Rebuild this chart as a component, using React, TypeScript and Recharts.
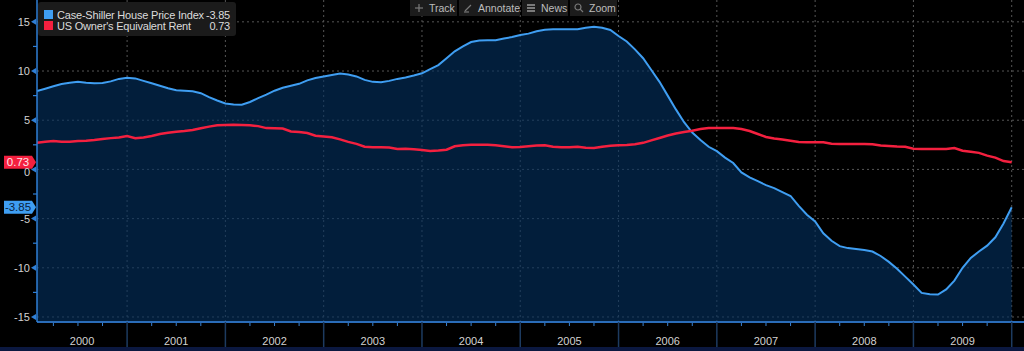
import React from 'react';
import { ComposedChart, Area, Line, XAxis, YAxis, CartesianGrid, ReferenceDot } from 'recharts';

const years = ['2000', '2001', '2002', '2003', '2004', '2005', '2006', '2007', '2008', '2009'];

// Monthly values, Jan 2000 .. Dec 2009 (YoY %)
const caseShiller = [
  7.97, 8.2, 8.45, 8.68, 8.8, 8.9, 8.8, 8.75, 8.78, 8.95, 9.2, 9.32,
  9.25, 9.0, 8.75, 8.5, 8.25, 8.05, 8.0, 7.95, 7.75, 7.35, 7.0, 6.7,
  6.6, 6.58, 6.85, 7.25, 7.6, 8.0, 8.3, 8.5, 8.7, 9.05, 9.3, 9.45,
  9.6, 9.75, 9.65, 9.45, 9.1, 8.9, 8.85, 9.0, 9.2, 9.35, 9.55, 9.77,
  10.2, 10.6, 11.3, 12.0, 12.5, 12.95, 13.1, 13.12, 13.12, 13.3, 13.45, 13.66,
  13.8, 14.05, 14.2, 14.24, 14.24, 14.24, 14.25, 14.4, 14.5, 14.4, 14.17, 13.56,
  13.0, 12.2, 11.3, 10.1, 8.9, 7.5, 6.1, 4.8, 3.75, 2.99, 2.3, 1.85,
  1.2, 0.65, -0.3, -0.8, -1.2, -1.6, -1.9, -2.3, -2.7, -3.7, -4.6, -5.3,
  -6.5, -7.25, -7.8, -8.0, -8.1, -8.2, -8.35, -8.8, -9.4, -10.1, -10.9, -11.7,
  -12.55, -12.7, -12.72, -12.2, -11.3, -10.0, -9.0, -8.35, -7.75, -6.9, -5.5, -3.85,
];

const ownersEquivRent = [
  2.71, 2.8, 2.88, 2.8, 2.82, 2.88, 2.92, 3.0, 3.1, 3.18, 3.25, 3.4,
  3.18, 3.25, 3.4, 3.6, 3.72, 3.83, 3.9, 4.0, 4.18, 4.35, 4.48, 4.52,
  4.55, 4.52, 4.48, 4.4, 4.2, 4.18, 4.15, 3.85, 3.8, 3.7, 3.42, 3.35,
  3.26, 3.05, 2.8, 2.6, 2.3, 2.25, 2.25, 2.22, 2.07, 2.1, 2.05, 1.97,
  1.87, 1.92, 2.0, 2.35, 2.45, 2.51, 2.51, 2.51, 2.45, 2.35, 2.25, 2.28,
  2.35, 2.42, 2.45, 2.3, 2.25, 2.25, 2.31, 2.2, 2.17, 2.3, 2.41, 2.45,
  2.48, 2.55, 2.7, 2.95, 3.2, 3.45, 3.65, 3.8, 3.92, 4.1, 4.21, 4.22,
  4.21, 4.21, 4.1, 3.9, 3.6, 3.3, 3.15, 3.05, 2.92, 2.78, 2.75, 2.75,
  2.75, 2.6, 2.58, 2.58, 2.58, 2.58, 2.55, 2.42, 2.38, 2.33, 2.3, 2.1,
  2.08, 2.07, 2.07, 2.07, 2.17, 1.9, 1.8, 1.68, 1.4, 1.2, 0.85, 0.73,
];

const yTicks = [-15, -12.5, -10, -7.5, -5, -2.5, 0, 2.5, 5, 7.5, 10, 12.5, 15];
const yGrid = [-15, -10, -5, 0, 5, 10, 15];

const CS_NAME = 'Case-Shiller House Price Index';
const OER_NAME = "US Owner's Equivalent Rent";

const CS_COLOR = '#3f9ef2';
const OER_COLOR = '#f4203f';
const FONT = '"Liberation Sans", Arial, sans-serif';

const data = caseShiller.map((v, i) => ({ m: i + 1, cs: v, oer: ownersEquivRent[i] }));
const lastCS = caseShiller[caseShiller.length - 1];
const lastOER = ownersEquivRent[ownersEquivRent.length - 1];

const quarterTicks = Array.from({ length: 40 }, (_, i) => (i + 1) * 3);
const yearLabelPos = years.map((_, k) => (Math.max(1, 12 * k) + 12 * k + 12) / 2);
const xTicks = Array.from(new Set([...quarterTicks, ...yearLabelPos])).sort((a, b) => a - b);
const yearBoundaries = years.map((_, k) => 12 * k + 12);

function YTick(props: any) {
  const { x, y, payload } = props;
  const v = payload.value;
  const major = Math.abs(v % 5) < 1e-9;
  if (!major) {
    return <line x1={x - 4} x2={x} y1={y} y2={y} stroke="#2f7fd6" strokeWidth={1.2} />;
  }
  // the zero label sits just under the last-value tag, as in the original
  const dy = v === 0 ? '0.62em' : '0.36em';
  return (
    <g>
      <text x={x - 7} y={y} dy={dy} textAnchor="end" fill="#d2d2d2" fontSize={11} fontFamily={FONT}>
        {v}
      </text>
      <polygon points={`${x - 6},${y} ${x - 1},${y - 3} ${x - 1},${y + 3}`} fill="#2f7fd6" />
    </g>
  );
}

function XTick(props: any) {
  const { x, y, payload } = props;
  const v = payload.value;
  const parts: any[] = [];
  if (Number.isInteger(v) && v % 3 === 0) {
    if (v % 12 === 0) {
      parts.push(<line key="b" x1={x} x2={x} y1={y} y2={y + 25} stroke="#1d3b60" strokeWidth={1.5} />);
    } else {
      parts.push(<line key="q" x1={x} x2={x} y1={y + 1} y2={y + 4} stroke="#3a82d0" strokeWidth={1} />);
    }
  }
  const k = yearLabelPos.indexOf(v);
  if (k >= 0) {
    parts.push(
      <text key="t" x={x} y={y + 23} textAnchor="middle" fill="#d2d2d2" fontSize={11} fontFamily={FONT}>
        {years[k]}
      </text>
    );
  }
  return <g>{parts}</g>;
}

const makeTag = (bg: string, fg: string, label: string) => (p: any) => {
  const { cx, cy } = p;
  const h = 6.5;
  const left = cx - 33;
  const body = cx - 5;
  return (
    <g>
      <polygon
        points={`${left},${cy - h} ${body},${cy - h} ${cx - 1},${cy} ${body},${cy + h} ${left},${cy + h}`}
        fill={bg}
      />
      <text x={(left + body) / 2} y={cy} dy="0.36em" textAnchor="middle" fill={fg} fontSize={11.5} fontFamily={FONT}>
        {label}
      </text>
    </g>
  );
};

function ToolButton({ left, width, icon, label }: any) {
  return (
    <div
      style={{
        position: 'absolute',
        left,
        top: 0,
        width,
        height: 16,
        background: '#1c1c1c',
        display: 'flex',
        alignItems: 'center',
        gap: 5,
        paddingLeft: 4,
        boxSizing: 'border-box',
        color: '#bdbdbd',
        fontSize: 10.5,
        fontFamily: FONT,
      }}
    >
      <svg width={10} height={10} viewBox="0 0 10 10">{icon}</svg>
      <span>{label}</span>
    </div>
  );
}

export default function App() {
  return (
    <div
      style={{
        position: 'absolute',
        left: 0,
        top: 0,
        width: 1024,
        height: 351,
        background: '#000',
        overflow: 'hidden',
      }}
    >
      <ComposedChart width={1024} height={351} data={data} margin={{ top: 0, right: 0, bottom: 0, left: 0 }}>
        <CartesianGrid
          stroke="#565656"
          strokeDasharray="2 3"
          horizontalValues={yGrid}
          verticalValues={yearBoundaries}
        />
        <XAxis
          type="number"
          dataKey="m"
          domain={[1, 121.5]}
          allowDataOverflow
          ticks={xTicks}
          interval={0}
          height={29}
          tickSize={0}
          tickMargin={0}
          tickLine={false}
          axisLine={{ stroke: '#2a6cb8', strokeWidth: 2 }}
          tick={<XTick />}
        />
        <YAxis
          type="number"
          domain={[-15.51, 17.22]}
          allowDataOverflow
          ticks={yTicks}
          interval={0}
          width={37}
          tickSize={0}
          tickMargin={0}
          tickLine={false}
          axisLine={{ stroke: '#2f7fd6', strokeWidth: 1.5 }}
          tick={<YTick />}
        />
        <Area
          type="linear"
          dataKey="cs"
          name={CS_NAME}
          baseValue="dataMin"
          stroke={CS_COLOR}
          strokeWidth={2}
          fill="#03305f"
          fillOpacity={0.62}
          isAnimationActive={false}
          dot={false}
          activeDot={false}
        />
        <Line
          type="linear"
          dataKey="oer"
          name={OER_NAME}
          stroke={OER_COLOR}
          strokeWidth={2.5}
          dot={false}
          activeDot={false}
          isAnimationActive={false}
        />
        <ReferenceDot x={1} y={lastOER} ifOverflow="visible" shape={makeTag('#f4203f', '#ffe6ea', lastOER.toFixed(2))} />
        <ReferenceDot x={1} y={lastCS} ifOverflow="visible" shape={makeTag('#3f9ef2', '#0a1e3c', lastCS.toFixed(2))} />
      </ComposedChart>

      {/* Legend */}
      <div
        style={{
          position: 'absolute',
          left: 38,
          top: 2,
          width: 198,
          height: 34,
          background: '#1b1b1b',
          borderRadius: 3,
          fontFamily: FONT,
          fontSize: 11,
          letterSpacing: -0.2,
          color: '#dcdcdc',
        }}
      >
        {[
          { name: CS_NAME, color: CS_COLOR, val: lastCS.toFixed(2) },
          { name: OER_NAME, color: OER_COLOR, val: lastOER.toFixed(2) },
        ].map((it, i) => (
          <div
            key={i}
            style={{
              position: 'absolute',
              left: 6,
              right: 6,
              top: 7 + i * 11,
              height: 11,
              display: 'flex',
              alignItems: 'center',
            }}
          >
            <span style={{ width: 9, height: 9, background: it.color, display: 'inline-block', marginRight: 4 }} />
            <span style={{ flex: 1, whiteSpace: 'nowrap' }}>{it.name}</span>
            <span>{it.val}</span>
          </div>
        ))}
      </div>

      {/* Toolbar */}
      <ToolButton
        left={410}
        width={47}
        label="Track"
        icon={
          <g stroke="#7a7a7a" strokeWidth={1.2}>
            <line x1={5} y1={1} x2={5} y2={9} />
            <line x1={1} y1={5} x2={9} y2={5} />
          </g>
        }
      />
      <ToolButton
        left={459}
        width={61}
        label="Annotate"
        icon={
          <g stroke="#7a7a7a" strokeWidth={1.2} fill="none">
            <line x1={2} y1={8} x2={8} y2={2} />
            <line x1={1} y1={9} x2={6} y2={9} />
          </g>
        }
      />
      <ToolButton
        left={522}
        width={46}
        label="News"
        icon={
          <g fill="#7a7a7a">
            <rect x={1} y={1} width={8} height={2} />
            <rect x={1} y={4} width={8} height={2} />
            <rect x={1} y={7} width={8} height={2} />
          </g>
        }
      />
      <ToolButton
        left={570}
        width={47}
        label="Zoom"
        icon={
          <g stroke="#7a7a7a" strokeWidth={1.2} fill="none">
            <circle cx={4} cy={4} r={3} />
            <line x1={6.2} y1={6.2} x2={9} y2={9} />
          </g>
        }
      />

      {/* bottom band */}
      <div style={{ position: 'absolute', left: 0, top: 347, width: 1024, height: 4, background: '#0b1840' }} />
    </div>
  );
}
